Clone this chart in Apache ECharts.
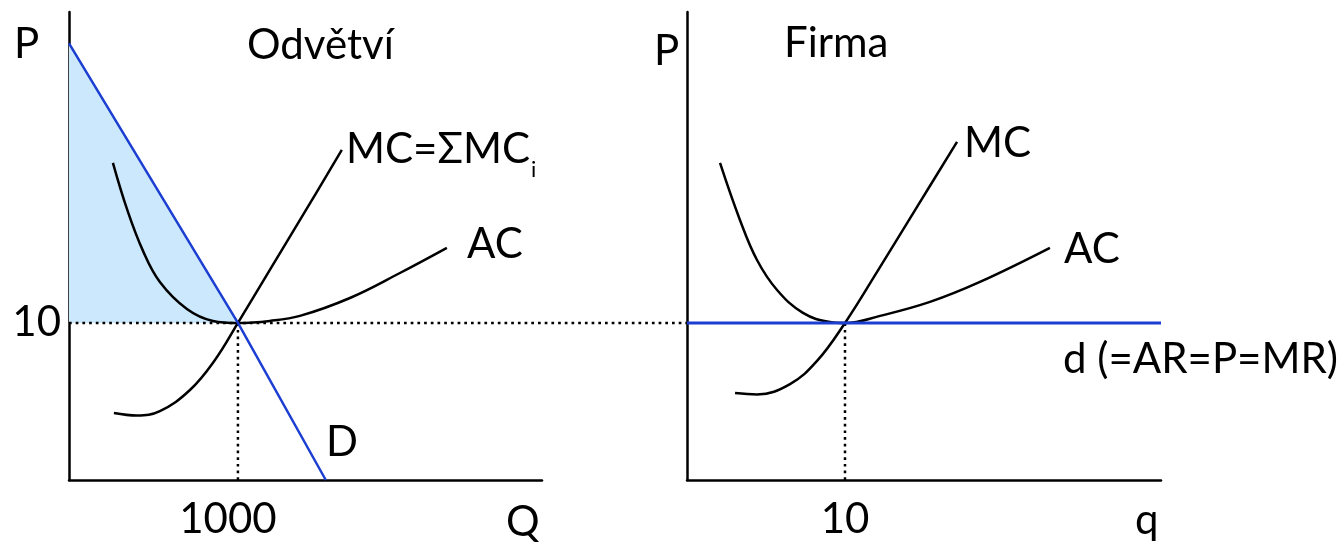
<!DOCTYPE html>
<html>
<head>
<meta charset="utf-8">
<script src="https://cdn.jsdelivr.net/npm/echarts@6/dist/echarts.min.js"></script>
<style>
  html, body { margin: 0; padding: 0; background: #fff; }
  #chart { width: 1340px; height: 543px; }
</style>
</head>
<body>
<div id="chart"></div>
<script>
// Perfect competition in the long run: industry (Odvětví) and one firm (Firma)

// Equilibrium
const eqPrice = 10;
const industryEqQty = 1000;
const firmEqQty = 10;

// Tick labels shown on the axes
const priceTicks = [10];
const industryQtyTicks = [1000];
const firmQtyTicks = [10];

// Industry: demand D (Q, P)
const industryDemand = [[0, 27.8], [1000, 10], [1520, 0]];
// Industry: upper edge of the shaded surplus triangle (down to P = 10)
const surplusEdge = [[0, 27.8], [1000, 10]];
// Industry: MC = ΣMCi
const industryMC = [[266, 4.27], [402, 4.11], [538, 4.39], [716, 5.73], [864, 7.64], [1000, 10], [1189, 13.38], [1396, 17.07], [1615, 21.02]];
// Industry: AC
const industryAC = [[260, 20.19], [343, 17.26], [438, 14.59], [538, 12.61], [698, 10.89], [852, 10.13], [1000, 10], [1189, 10.13], [1367, 10.45], [1663, 11.59], [1959, 13.18], [2237, 14.78]];

// Firm: AC
const firmAC = [[2.09, 20.19], [3.35, 16.56], [4.43, 14.01], [5.7, 12.1], [7.34, 10.64], [9.05, 10.06], [10, 10], [12.22, 10.45], [15.38, 11.34], [18.54, 12.61], [22.97, 14.78]];
// Firm: MC
const firmMC = [[3.04, 5.54], [4.43, 5.45], [6.52, 6.11], [8.23, 7.58], [10, 10], [12.03, 13.25], [14.56, 17.39], [17.09, 21.53]];
// Firm: demand d (= AR = P = MR), horizontal at the market price
const firmDemand = [[0, 10], [30, 10]];

const FONT = 'Lato';
const FS = 42;
const BLUE = '#1c3fd2';
const FILL = '#cce8fc';
const DOT = [2.7, 4];
const SMOOTH = 0.4;

const chart = echarts.init(document.getElementById('chart'), null, { renderer: 'canvas' });

function valueAxis(gridIndex, max, interval, ticks, showLabel, margin, padding) {
  return {
    type: 'value', gridIndex, min: 0, max, interval,
    splitLine: { show: false },
    axisTick: { show: false },
    axisLine: { show: true, onZero: false, lineStyle: { color: '#000', width: 2.5 } },
    axisLabel: {
      show: showLabel, margin, padding: padding || 0,
      color: '#000', fontFamily: FONT, fontSize: FS,
      showMinLabel: true, showMaxLabel: false,
      formatter: v => (ticks.indexOf(v) >= 0 ? String(v) : '')
    }
  };
}

function curve(xi, data, color, width, extra) {
  return Object.assign({
    type: 'line', xAxisIndex: xi, yAxisIndex: xi, data,
    symbol: 'none', silent: true, animation: false,
    lineStyle: { color, width }
  }, extra || {});
}

const dotted = { color: '#000', width: 2.5, type: DOT };

const option = {
  backgroundColor: '#fff',
  animation: false,
  grid: [
    { left: 69, top: 12, width: 473, height: 468 },
    { left: 687, top: 12, width: 474, height: 468 }
  ],
  xAxis: [
    valueAxis(0, 2800, 1000, industryQtyTicks, true, 18, [0, 20, 0, 0]),
    valueAxis(1, 30, 10, firmQtyTicks, true, 18)
  ],
  yAxis: [
    valueAxis(0, 29.8, 10, priceTicks, true, 8),
    valueAxis(1, 29.8, 10, priceTicks, false, 8)
  ],
  series: [
    // shaded triangle between D and the price line
    {
      type: 'custom', xAxisIndex: 0, yAxisIndex: 0, silent: true, z: 1,
      data: [0],
      renderItem: (params, api) => {
        const pts = surplusEdge.map(p => api.coord(p));
        pts.push(api.coord([surplusEdge[0][0], eqPrice]));
        return { type: 'polygon', shape: { points: pts }, style: { fill: FILL } };
      }
    },
    curve(0, [[industryEqQty, 0], [industryEqQty, eqPrice]], '#000', 2.5, { lineStyle: dotted, z: 2 }),
    curve(1, [[firmEqQty, 0], [firmEqQty, eqPrice]], '#000', 2.5, { lineStyle: dotted, z: 2 }),
    curve(0, industryMC, '#000', 2.5, { smooth: SMOOTH, z: 3 }),
    curve(0, industryAC, '#000', 2.5, { smooth: SMOOTH, z: 3 }),
    curve(1, firmAC, '#000', 2.5, { smooth: SMOOTH, z: 3 }),
    curve(1, firmMC, '#000', 2.5, { smooth: SMOOTH, z: 3 }),
    curve(0, industryDemand, BLUE, 2.5, { z: 4 }),
    curve(1, firmDemand, BLUE, 3, { z: 4 })
  ]
};

chart.setOption(option);

// Price line carried from the industry panel over to the firm's P axis
const linkStart = chart.convertToPixel({ gridIndex: 0 }, [0, eqPrice]);
const linkEnd = chart.convertToPixel({ gridIndex: 1 }, [0, eqPrice]);

function label(text, x, y, extra) {
  return {
    type: 'text', x, y, silent: true, z: 10,
    style: Object.assign({
      text, fill: '#000', font: FS + 'px ' + FONT,
      align: 'left', verticalAlign: 'middle'
    }, extra || {})
  };
}

chart.setOption({
  graphic: [
    {
      type: 'line', silent: true, z: 2,
      shape: { x1: linkStart[0], y1: linkStart[1], x2: linkEnd[0], y2: linkEnd[1] },
      style: { stroke: '#000', lineWidth: 2.5, lineDash: DOT }
    },
    // industry panel
    label('P', 14, 44),
    label('Odvětví', 247, 45),
    label('MC=ΣMC', 346, 149),
    label('i', 531, 170, { font: '22px ' + FONT }),
    label('AC', 467, 244),
    label('D', 326, 442),
    label('Q', 506, 522),
    // firm panel
    label('P', 654, 51),
    label('Firma', 784, 43),
    label('MC', 964, 143),
    label('AC', 1064, 249),
    label('d (=AR=P=MR)', 1338, 359, { align: 'right' }),
    label('q', 1135, 520)
  ]
});
</script>
</body>
</html>
